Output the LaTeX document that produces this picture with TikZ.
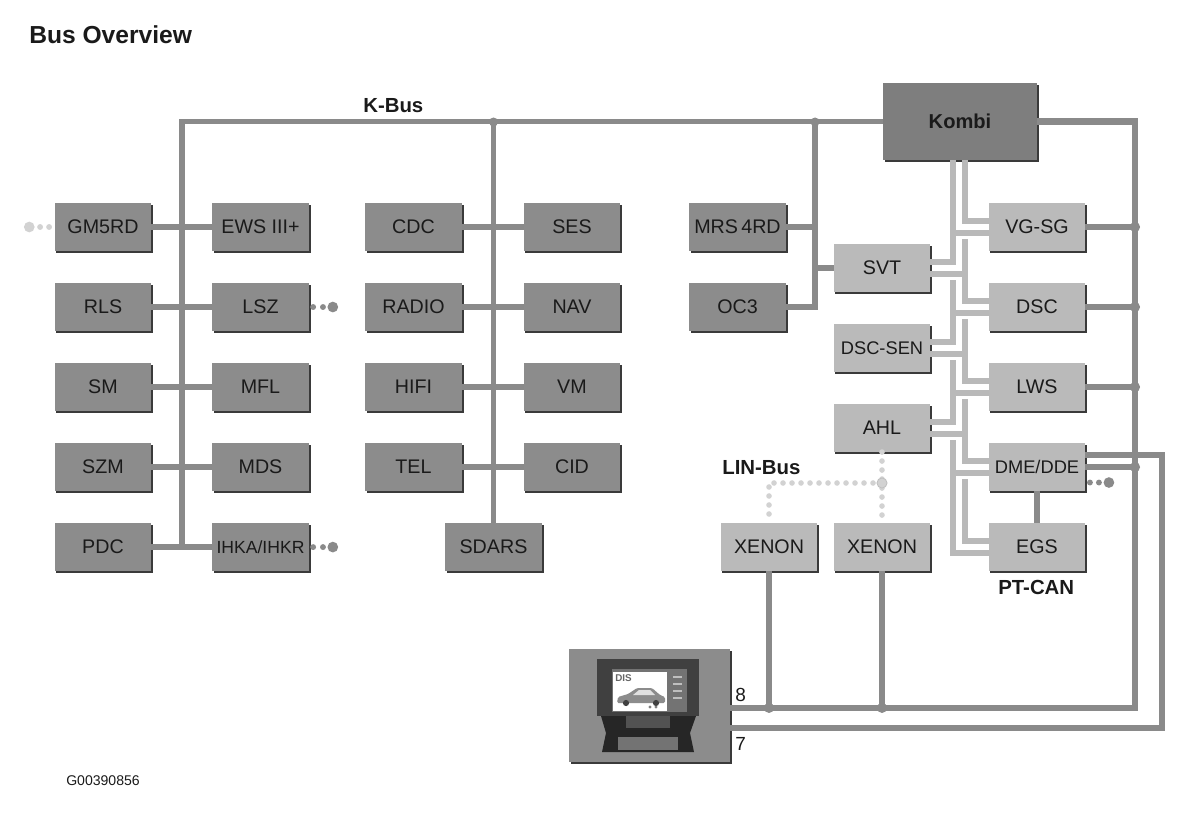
\documentclass[tikz,border=0pt]{standalone}
\usepackage{fontspec}
\setmainfont{Liberation Sans}
\usetikzlibrary{positioning,shadows}

\definecolor{ecudark}{HTML}{8C8C8C}
\definecolor{kombigray}{HTML}{7E7E7E}
\definecolor{eculight}{HTML}{BABABA}
\definecolor{busgray}{HTML}{8A8A8A}
\definecolor{cangray}{HTML}{B9B9B9}
\definecolor{lingray}{HTML}{D2D2D2}
\definecolor{edgegray}{HTML}{3A3A3A}
\definecolor{textblack}{HTML}{1A1A1A}

\newcommand\ecusize{\fontsize{14}{16}\selectfont}
\newcommand\ecusmall{\fontsize{13}{15}\selectfont}

\begin{document}
\begin{tikzpicture}[x=0.025cm,y=-0.025cm,node distance=8mm,
    ecu/.style={fill=ecudark,text=textblack,minimum width=24.2mm,minimum height=12mm,inner sep=0pt,outer sep=0pt,font=\ecusize,
        drop shadow={shadow xshift=1.2pt,shadow yshift=-1.2pt,fill=edgegray,opacity=1}},
    ecul/.style={ecu,fill=eculight},
    bus/.style={draw=busgray,line width=3.8pt},
    diag/.style={draw=busgray,line width=4.6pt},
    can/.style={draw=cangray,line width=4pt},
    lin/.style={draw=lingray,line width=4pt,line cap=round,dash pattern=on 0pt off 6.4pt},
    joint/.style={fill=busgray},
    busname/.style={anchor=base west,inner sep=0pt,text=textblack,font=\bfseries\fontsize{14.5}{16}\selectfont}]

            \useasboundingbox (0,0) rectangle (1200,813);

            \node[anchor=base west,inner sep=0pt,text=textblack,font=\bfseries\fontsize{17.5}{20}\selectfont] (title) at (29,44) {Bus Overview};

            \node[ecu] (gm) at (103,227) {GM5RD};
            \node[ecu] (rls) [below=of gm] {RLS};
            \node[ecu] (sm) [below=of rls] {SM};
            \node[ecu] (szm) [below=of sm] {SZM};
            \node[ecu] (pdc) [below=of szm] {PDC};

            \node[ecu] (ews) at (260.5,227) {EWS III+};
            \node[ecu] (lsz) [below=of ews] {LSZ};
            \node[ecu] (mfl) [below=of lsz] {MFL};
            \node[ecu] (mds) [below=of mfl] {MDS};
            \node[ecu,font=\fontsize{12.5}{14}\selectfont] (ihka) [below=of mds] {IHKA/IHKR};

            \node[ecu] (cdc) at (413.5,227) {CDC};
            \node[ecu] (radio) [below=of cdc] {RADIO};
            \node[ecu] (hifi) [below=of radio] {HIFI};
            \node[ecu] (tel) [below=of hifi] {TEL};

            \node[ecu] (ses) at (572,227) {SES};
            \node[ecu] (nav) [below=of ses] {NAV};
            \node[ecu] (vm) [below=of nav] {VM};
            \node[ecu] (cid) [below=of vm] {CID};

            \node[ecu] (sdars) at (493.5,547) {SDARS};

            \node[ecu] (mrs) at (737.5,227) {MRS\,4RD};
            \node[ecu] (oc3) [below=of mrs] {OC3};

            \node[ecu,fill=kombigray,minimum width=38.5mm,minimum height=19.25mm,font=\bfseries\fontsize{14.3}{16}\selectfont] (kombi) at (960,121.5) {Kombi};

            \node[ecul] (vgsg) at (1037,227) {VG-SG};
            \node[ecul] (dsc) [below=of vgsg] {DSC};
            \node[ecul] (lws) [below=of dsc] {LWS};
            \node[ecul,font=\ecusmall] (dme) [below=of lws] {DME/DDE};
            \node[ecul] (egs) [below=of dme] {EGS};

            \node[ecul] (svt) at (882,268) {SVT};
            \node[ecul,font=\ecusmall] (dscsen) [below=of svt] {DSC-SEN};
            \node[ecul] (ahl) [below=of dscsen] {AHL};

            \node[ecul] (xen1) at (769,547) {XENON};
            \node[ecul] (xen2) at (882,547) {XENON};

            \node[ecu,minimum width=40.25mm,minimum height=28.25mm] (dis) at (649.5,705.5) {};

            \node[busname] (kbus) at (363,113) {K-Bus};
            \node[busname] (linbus) at (722,474) {LIN-Bus};
            \node[busname] (ptcan) at (998,594) {PT-CAN};
            \node[anchor=base west,inner sep=0pt,text=textblack,font=\fontsize{13.5}{15}\selectfont] (pin8txt) at (735,701) {8};
            \node[anchor=base west,inner sep=0pt,text=textblack,font=\fontsize{13.5}{15}\selectfont] (pin7txt) at (735,750) {7};
            \node[anchor=base west,inner sep=0pt,text=textblack,font=\fontsize{10}{12}\selectfont] (code) at (66,785) {G00390856};

            \coordinate (kl) at (182,122);
            \coordinate (kr) at (815,122);
            \coordinate (rr) at (1135,0);
            \coordinate (r7) at (1162,0);
            \coordinate (xa) at (953,0);
            \coordinate (xb) at (965,0);
            \coordinate (lj) at (882,483);
            \coordinate (pin8) at ([yshift=-0.6mm]dis.east);
            \coordinate (pin7) at ([yshift=-5.6mm]dis.east);
            \coordinate (dme-r) at ([yshift=3mm]dme.east);

            \draw[bus] (kombi.west) -| (pdc.east -| kl);
            \foreach \a/\b in {gm/ews,rls/lsz,sm/mfl,szm/mds,pdc/ihka,cdc/ses,radio/nav,hifi/vm,tel/cid}
                \draw[bus] (\a.east) -- (\b.west);
            \draw[bus] (sdars.north |- kl) -- (sdars.north);
            \draw[bus] (kr) |- (oc3.east);
            \draw[bus] (mrs.east) -- (mrs.east -| kr);
            \draw[bus] (svt.west -| kr) -- (svt.west);
            \fill[joint] (sdars.north |- kl) circle (3.2pt) (kr) circle (3.2pt);

            \foreach \m in {vgsg,dsc,lws,dme,egs} {
                \coordinate (\m-h) at ([yshift=1.5mm]\m.west);
                \coordinate (\m-l) at ([yshift=-1.5mm]\m.west);
                \coordinate (\m-g) at ([yshift=-3mm]\m.west);
            }
            \foreach \m in {svt,dscsen,ahl} {
                \coordinate (\m-h) at ([yshift=1.5mm]\m.east);
                \coordinate (\m-l) at ([yshift=-1.5mm]\m.east);
                \coordinate (\m-g) at ([yshift=-3mm]\m.east);
            }
            \draw[can] (kombi.south -| xa) |- (svt-h);
            \draw[can] (svt-g -| xa) |- (dscsen-h);
            \draw[can] (dscsen-g -| xa) |- (ahl-h);
            \draw[can] (ahl-g -| xa) |- (egs-l);
            \draw[can] (kombi.south -| xb) |- (vgsg-h);
            \draw[can] (vgsg-g -| xb) |- (dsc-h);
            \draw[can] (dsc-g -| xb) |- (lws-h);
            \draw[can] (lws-g -| xb) |- (dme-h);
            \draw[can] (dme-g -| xb) |- (egs-h);
            \foreach \m in {vgsg,dsc,lws,dme}
                \draw[can] (\m-l -| xa) -- (\m-l);
            \foreach \m in {svt,dscsen,ahl}
                \draw[can] (\m-l) -- (\m-l -| xb);

            \draw[diag] (kombi.east) -| (pin8 -| rr) -- (pin8);
            \draw[diag] (dme-r) -| (pin7 -| r7) -- (pin7);
            \draw[diag] (dme.south) -- (egs.north);
            \foreach \m in {vgsg,dsc,lws,dme} {
                \draw[diag] (\m.east) -- (\m.east -| rr);
                \fill[joint] (\m.east -| rr) circle (3.6pt);
            }
            \foreach \x in {xen1,xen2} {
                \draw[diag] (\x.south) -- (\x.south |- pin8);
                \fill[joint] (\x.south |- pin8) circle (3.6pt);
            }

            \draw[lin] (ahl.south) -- (xen2.north);
            \draw[lin] (lj) -| (xen1.north);
            \filldraw[fill=lingray,draw=black!25,line width=0.6pt] (lj) circle (3.6pt);

            \fill[busgray] ([xshift=3pt]lsz.east) circle (2.1pt) ([xshift=10pt]lsz.east) circle (2.1pt) ([xshift=17pt]lsz.east) circle (3.8pt);
            \fill[busgray] ([xshift=3pt]ihka.east) circle (2.1pt) ([xshift=10pt]ihka.east) circle (2.1pt) ([xshift=17pt]ihka.east) circle (3.8pt);
            \fill[busgray] ([xshift=3.2pt,yshift=-11pt]dme.east) circle (2.1pt) ([xshift=9.6pt,yshift=-11pt]dme.east) circle (2.1pt) ([xshift=16.7pt,yshift=-11pt]dme.east) circle (3.8pt);
            \fill[lingray] ([xshift=-3.9pt]gm.west) circle (2.1pt) ([xshift=-10.3pt]gm.west) circle (2.1pt) ([xshift=-18pt]gm.west) circle (3.8pt);

            \fill[black!75] (597,659) rectangle (699,716);
            \fill[black!55] (612,669) rectangle (687,712);
            \fill[white] (613,672) rectangle (667,711);
            \foreach \y in {676,683,690,697}
                \fill[black!25] (673,\y) rectangle (682,\y+2);
            \fill[black!85] (601,716) -- (696,716) -- (690,733) -- (694,752) -- (602,752) -- (606,733) -- cycle;
            \fill[black!55] (618,737) rectangle (678,750);
            \fill[black!68] (626,716) rectangle (670,728);
            \node[anchor=north west,inner sep=0pt,text=black!60,font=\bfseries\fontsize{7}{8}\selectfont] (distxt) at (615,674) {DIS};
            \fill[black!45,rounded corners=1pt] (617,703) -- (618,697) -- (628,694) -- (637,688) -- (652,688) -- (660,695) -- (665,697) -- (665,703) -- cycle;
            \fill[black!12] (639,690) -- (650,690) -- (655,695) -- (633,695) -- cycle;
            \fill[black!75] (626,703) circle (2.2pt) (656,703) circle (2.2pt);
            \fill[black!50] (650,707) circle (1.2pt) (656,707) circle (1.2pt);

        \end{tikzpicture}
\end{document}
